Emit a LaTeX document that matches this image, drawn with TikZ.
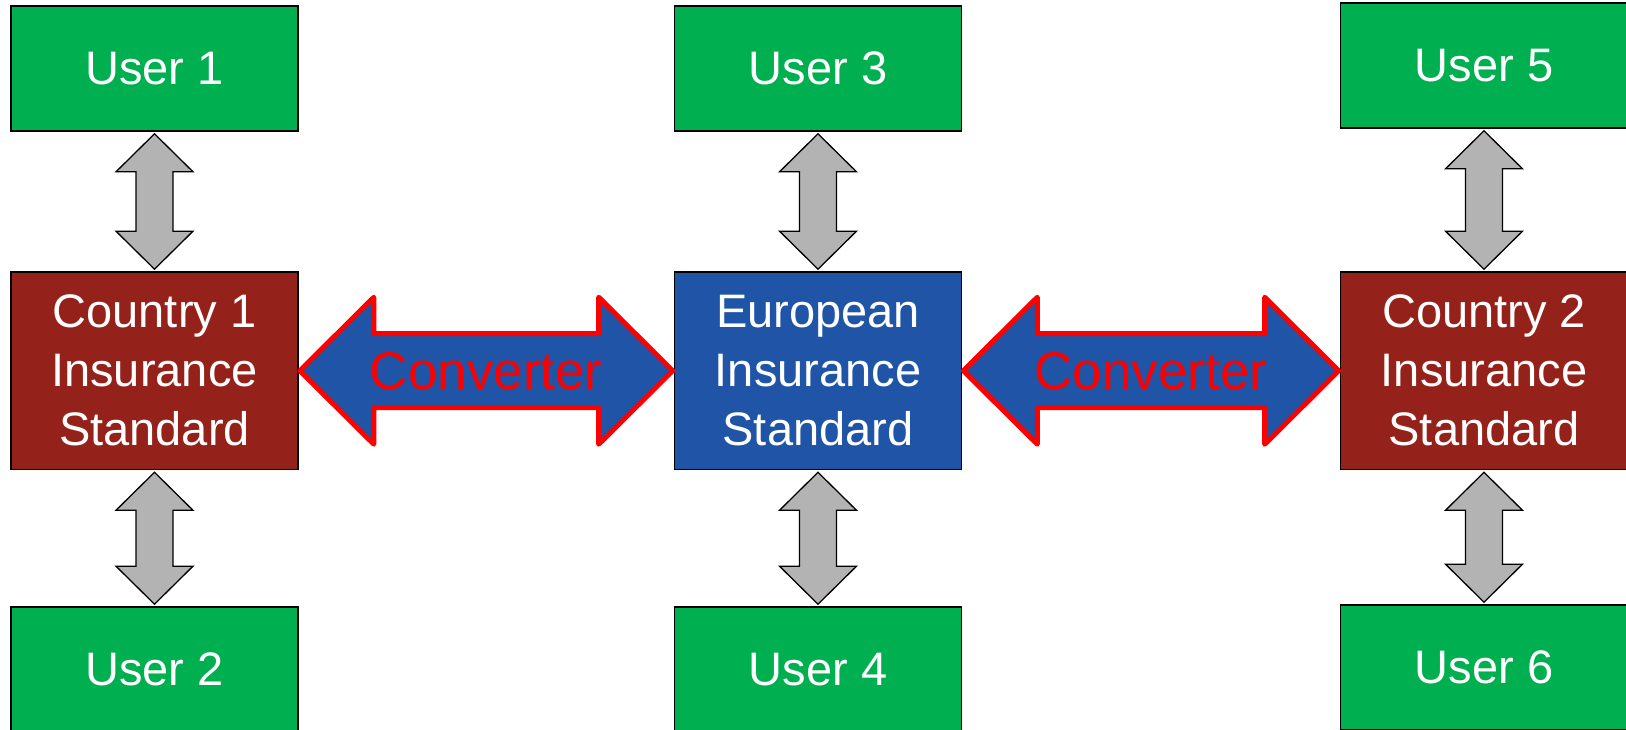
\documentclass[tikz,border=0pt]{standalone}
\usepackage{fontspec}
\setmainfont{Liberation Sans}
\usetikzlibrary{calc}

\definecolor{usergreen}{RGB}{0,176,80}
\definecolor{countryred}{RGB}{149,34,26}
\definecolor{eurblue}{RGB}{31,84,166}
\definecolor{linkgray}{RGB}{179,179,179}

\tikzset{
  box/.style={draw=black, line width=1.6pt, minimum width=287pt, inner sep=0pt,
    text=white, align=center, font=\fontsize{47}{59}\selectfont},
  userbox/.style={box, fill=usergreen, minimum height=125pt},
  stdbox/.style={box, minimum height=197.5pt},
  countrybox/.style={stdbox, fill=countryred},
  eurobox/.style={stdbox, fill=eurblue},
  linkarrow/.style={draw=black, line width=1.3pt, fill=linkgray, line join=miter},
  convarrow/.style={draw=red, line width=5pt, fill=eurblue, line join=round},
  convlabel/.style={text=red, font=\fontsize{53}{60}\selectfont},
}

% two-headed vertical block arrow between an upper and a lower node
\newcommand\linkV[2]{%
  \draw[linkarrow] let \p1=($(#1.south)+(0,-2)$), \p2=($(#2.north)+(0,2)$) in
    (\x1,\y1) -- (\x1+38.5pt,\y1-38pt) -- (\x1+18.5pt,\y1-38pt)
    -- (\x1+18.5pt,\y2+38pt) -- (\x1+38.5pt,\y2+38pt) -- (\x1,\y2)
    -- (\x1-38.5pt,\y2+38pt) -- (\x1-18.5pt,\y2+38pt)
    -- (\x1-18.5pt,\y1-38pt) -- (\x1-38.5pt,\y1-38pt) -- cycle;}

% two-headed horizontal converter arrow between a left and a right node
\newcommand\convLink[2]{%
  \draw[convarrow] let \p1=($(#1.east)+(1,0)$), \p2=($(#2.west)+(-1,0)$) in
    (\x1,\y1) -- (\x1+74pt,\y1+73.5pt) -- (\x1+74pt,\y1+37pt)
    -- (\x2-74pt,\y1+37pt) -- (\x2-74pt,\y1+73.5pt) -- (\x2,\y1)
    -- (\x2-74pt,\y1-73.5pt) -- (\x2-74pt,\y1-37pt)
    -- (\x1+74pt,\y1-37pt) -- (\x1+74pt,\y1-73.5pt) -- cycle;
  \path (#1.east) -- (#2.west) node[midway, convlabel, yshift=-1pt] {Converter};}

\begin{document}
\begin{tikzpicture}[x=1pt,y=1pt]
\useasboundingbox (0,0) rectangle (1626,730);

% left column
\node[userbox]    (u1) at (154.5,661.5) {User 1};
\node[countrybox] (c1) at (154.5,359.25) {Country 1\\Insurance\\Standard};
\node[userbox]    (u2) at (154.5,60.5) {User 2};

% middle column
\node[userbox]    (u3) at (818,661.5) {User 3};
\node[eurobox]    (eu) at (818,359.25) {European\\Insurance\\Standard};
\node[userbox]    (u4) at (818,60.5) {User 4};

% right column
\node[userbox]    (u5) at (1484,664.5) {User 5};
\node[countrybox] (c2) at (1484,359.25) {Country 2\\Insurance\\Standard};
\node[userbox]    (u6) at (1484,62.5) {User 6};

% user links
\linkV{u1}{c1}
\linkV{c1}{u2}
\linkV{u3}{eu}
\linkV{eu}{u4}
\linkV{u5}{c2}
\linkV{c2}{u6}

% converters
\convLink{c1}{eu}
\convLink{eu}{c2}
\end{tikzpicture}
\end{document}
